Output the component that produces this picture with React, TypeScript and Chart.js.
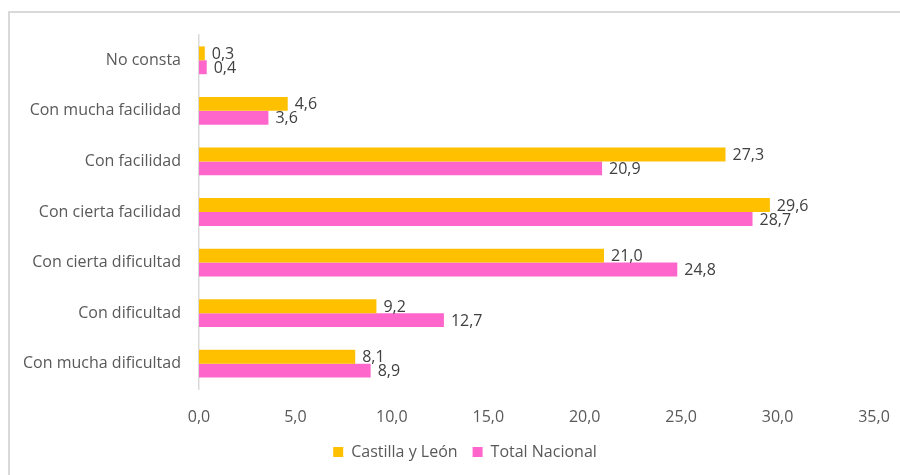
import React, { useEffect, useRef } from "react";
import { Chart, registerables } from "chart.js";

Chart.register(...registerables);

const categories = [
  "No consta",
  "Con mucha facilidad",
  "Con facilidad",
  "Con cierta facilidad",
  "Con cierta dificultad",
  "Con dificultad",
  "Con mucha dificultad",
];
const castillaLeon = [0.3, 4.6, 27.3, 29.6, 21.0, 9.2, 8.1];
const totalNacional = [0.4, 3.6, 20.9, 28.7, 24.8, 12.7, 8.9];
const xTicks = [0, 5, 10, 15, 20, 25, 30, 35];

const FONT = "'Open Sans', Lato, sans-serif";
const fmt = (v: number) => v.toFixed(1).replace(".", ",");

const labelPlugin = {
  id: "barValueLabels",
  afterLayout(chart: any) {
    if (chart.legend) {
      chart.legend.left = 56;
    }
  },
  afterDatasetsDraw(chart: any) {
    const ctx = chart.ctx;
    ctx.save();
    ctx.font = `16px ${FONT}`;
    ctx.fillStyle = "#404040";
    ctx.textAlign = "left";
    ctx.textBaseline = "middle";
    chart.data.datasets.forEach((ds: any, di: number) => {
      const meta = chart.getDatasetMeta(di);
      meta.data.forEach((el: any, i: number) => {
        ctx.fillText(fmt(ds.data[i]), el.x + 7, el.y + 1);
      });
    });
    ctx.restore();
  },
};

export default function App() {
  const ref = useRef<HTMLCanvasElement | null>(null);
  useEffect(() => {
    if (!ref.current) return;
    const chart = new Chart(ref.current, {
      type: "bar",
      data: {
        labels: categories,
        datasets: [
          {
            label: "Castilla y León",
            data: castillaLeon,
            backgroundColor: "#FFC000",
            categoryPercentage: 0.55,
            barPercentage: 1.0,
          },
          {
            label: "Total Nacional",
            data: totalNacional,
            backgroundColor: "#FF66CC",
            categoryPercentage: 0.55,
            barPercentage: 1.0,
          },
        ],
      },
      options: {
        indexAxis: "y",
        animation: false,
        responsive: false,
        maintainAspectRatio: false,
        layout: { padding: { left: 10, right: 26, top: 35, bottom: 5 } },
        scales: {
          x: {
            min: 0,
            max: 35,
            afterBuildTicks: (scale: any) => {
              scale.ticks = xTicks.map((v) => ({ value: v }));
            },
            afterFit: (scale: any) => {
              scale.height = 40;
              scale.paddingLeft = 0;
              scale.paddingRight = 0;
            },
            grid: { display: false, drawTicks: false },
            border: { display: false },
            ticks: {
              padding: 19,
              color: "#595959",
              font: { family: FONT, size: 16 },
              callback: (v: any) => fmt(Number(v)),
            },
          },
          y: {
            afterFit: (scale: any) => {
              scale.width = 189;
            },
            grid: { display: false, drawTicks: false },
            border: { display: true, color: "#d9d9d9", width: 1.5 },
            ticks: {
              padding: 18,
              color: "#595959",
              font: { family: FONT, size: 16 },
            },
          },
        },
        plugins: {
          legend: {
            position: "bottom",
            labels: {
              boxWidth: 10,
              boxHeight: 10,
              padding: 15,
              color: "#595959",
              font: { family: FONT, size: 16 },
            },
          },
          tooltip: { enabled: false },
        },
      },
      plugins: [labelPlugin],
    });
    return () => chart.destroy();
  }, []);
  return (
    <div style={{ position: "fixed", left: 0, top: 0, width: 900, height: 475, background: "#fff" }}>
      <div
        style={{
          position: "absolute",
          left: 8,
          top: 11,
          width: 900,
          height: 470,
          borderLeft: "2px solid #d9d9d9",
          borderTop: "2px solid #d9d9d9",
        }}
      />
      <canvas ref={ref} width={900} height={475} style={{ position: "absolute", left: 0, top: 0 }} />
    </div>
  );
}
